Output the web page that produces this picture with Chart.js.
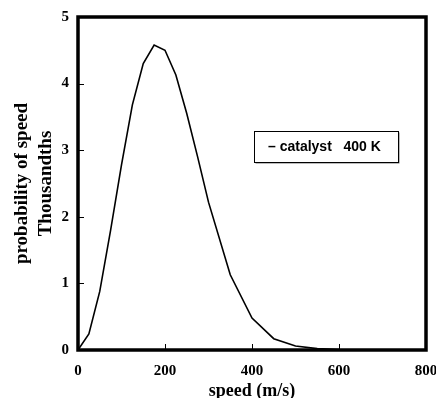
<!DOCTYPE html>
<html><head><meta charset="utf-8">
<script src="https://cdn.jsdelivr.net/npm/chart.js@4/dist/chart.umd.min.js"></script>
<style>html,body{margin:0;padding:0;background:#fff}#wrap{width:436px;height:398px}</style>
</head><body><div id="wrap"><canvas id="c" width="436" height="398"></canvas></div>
<script>
const speeds = [0, 25, 50, 75, 100, 125, 150, 175, 200, 225, 250, 275, 300, 350, 400, 450, 500, 550, 600, 650];
const probThousandths = [0, 0.24, 0.88, 1.8, 2.78, 3.68, 4.3, 4.58, 4.5, 4.13, 3.55, 2.9, 2.22, 1.13, 0.48, 0.17, 0.06, 0.02, 0.005, 0];
const seriesLabel = '– catalyst   400 K';
const xTicks = [0, 200, 400, 600, 800];
const yTicks = [0, 1, 2, 3, 4, 5];

const frame = {
  id: 'frame',
  afterDraw(chart) {
    const {ctx, chartArea: a, scales} = chart;
    ctx.save();
    ctx.strokeStyle = '#000';
    ctx.lineWidth = 1;
    yTicks.forEach(v => {
      const y = Math.round(scales.y.getPixelForValue(v)) + 0.5;
      ctx.beginPath(); ctx.moveTo(a.left, y); ctx.lineTo(a.left + 6, y); ctx.stroke();
    });
    xTicks.forEach(v => {
      const x = Math.round(scales.x.getPixelForValue(v)) + 0.5;
      ctx.beginPath(); ctx.moveTo(x, a.bottom); ctx.lineTo(x, a.bottom - 6); ctx.stroke();
    });
    ctx.lineWidth = 3.5;
    ctx.strokeRect(a.left, a.top, a.right - a.left, a.bottom - a.top);
    // legend box
    const bx = 254, by = 131, bw = 144, bh = 31;
    ctx.fillStyle = '#777';
    ctx.fillRect(bx + 1.5, by + 1.5, bw, bh);
    ctx.fillStyle = '#fff';
    ctx.fillRect(bx, by, bw, bh);
    ctx.lineWidth = 1;
    ctx.strokeRect(bx + 0.5, by + 0.5, bw, bh);
    ctx.fillStyle = '#000';
    ctx.font = 'bold 14px "Liberation Sans", Arial, sans-serif';
    ctx.textBaseline = 'middle';
    ctx.textAlign = 'left';
    ctx.fillText(seriesLabel, bx + 14, by + bh / 2 + 1);
    ctx.restore();
  }
};

const serif = '"Liberation Serif", "Times New Roman", serif';

new Chart(document.getElementById('c'), {
  type: 'line',
  data: {
    datasets: [{
      label: seriesLabel,
      data: speeds.map((s, i) => ({x: s, y: probThousandths[i]})),
      borderColor: '#000',
      borderWidth: 1.6,
      pointRadius: 0,
      tension: 0,
      fill: false
    }]
  },
  options: {
    responsive: false,
    animation: false,
    layout: {padding: {top: 17, right: 10, left: 0, bottom: 0}},
    plugins: {legend: {display: false}, tooltip: {enabled: false}},
    scales: {
      x: {
        type: 'linear', min: 0, max: 800,
        afterBuildTicks: s => { s.ticks = xTicks.map(v => ({value: v})); },
        afterFit: s => { s.height = 48; s.paddingLeft = 0; s.paddingRight = 10; },
        grid: {display: false, drawTicks: false, tickLength: 0},
        border: {display: false},
        ticks: {color: '#000', padding: 12, maxRotation: 0,
          font: {family: serif, weight: 'bold', size: 15}},
        title: {display: true, text: 'speed (m/s)', color: '#000', padding: {top: 0, bottom: -4},
          font: {family: serif, weight: 'bold', size: 18}}
      },
      y: {
        type: 'linear', min: 0, max: 5,
        afterBuildTicks: s => { s.ticks = yTicks.map(v => ({value: v})); },
        afterFit: s => { s.width = 78; s.paddingTop = 17; s.paddingBottom = 0; },
        grid: {display: false, drawTicks: false, tickLength: 0},
        border: {display: false},
        ticks: {color: '#000', padding: 9,
          font: {family: serif, weight: 'bold', size: 15}},
        title: {display: true, text: ['probability of speed', 'Thousandths'], color: '#000',
          padding: {top: 10, bottom: 0},
          font: {family: serif, weight: 'bold', size: 19, lineHeight: 1.25}}
      }
    }
  },
  plugins: [frame]
});
</script>
</body></html>
